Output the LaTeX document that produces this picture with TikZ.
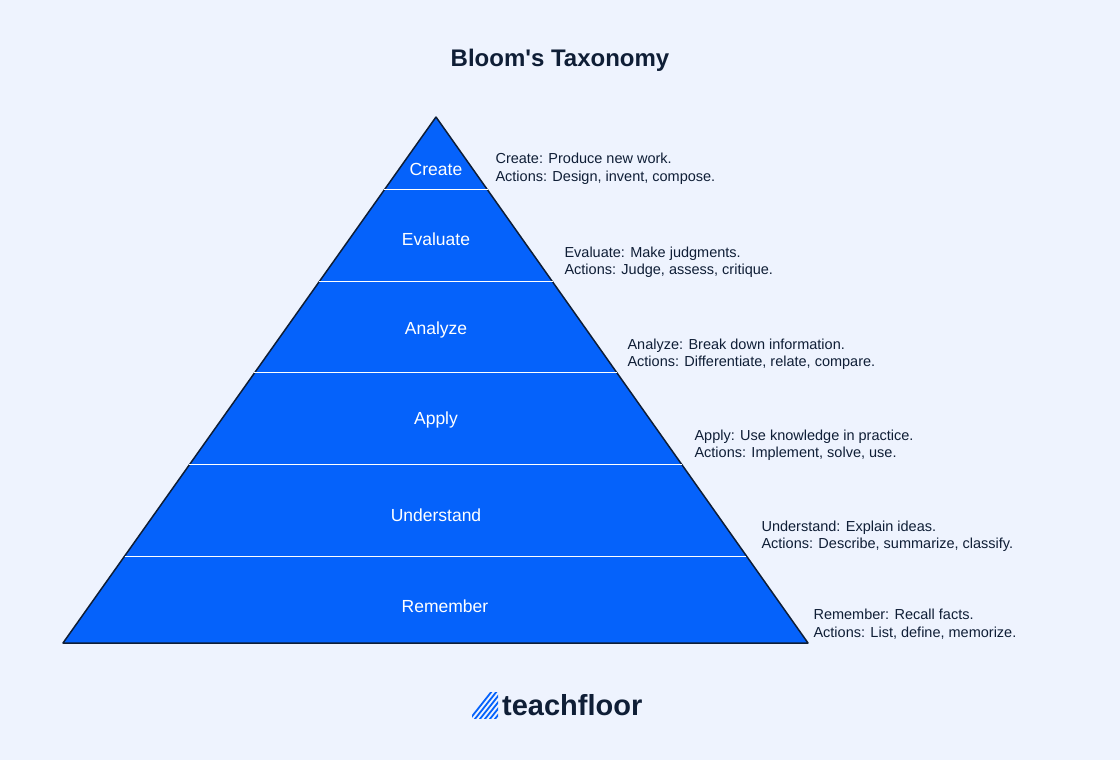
\documentclass[tikz,border=0pt]{standalone}
\usepackage{fontspec}
\setmainfont{Liberation Sans}
\usetikzlibrary{calc}
\definecolor{bgblue}{HTML}{EEF3FE}
\definecolor{pyrblue}{HTML}{0562FB}
\definecolor{navy}{HTML}{0F1E36}
\tikzset{
  levellabel/.style={text=white, font=\fontsize{17.5}{20}\selectfont},
  sidenote/.style={anchor=west, align=left, text=navy, font=\fontsize{14.5}{17.5}\selectfont}
}
\begin{document}
\begin{tikzpicture}[x=1pt,y=-1pt]
            \fill[bgblue] (0,0) rectangle (1120,760);
            \useasboundingbox (0,0) rectangle (1120,760);
            \node[text=navy, font=\bfseries\fontsize{24}{28}\selectfont] (title) at (560,60) {Bloom\textquotesingle s Taxonomy};
            \filldraw[fill=pyrblue, draw=navy, line width=1.5pt, line join=round] (436,117) coordinate (apex) -- (808,643) coordinate (baseR) -- (63,643) coordinate (baseL) -- cycle;
            % band separators
            \foreach \yy in {190,282,373,465,556}
                \draw[white, line width=1pt] ($(apex)!{(\yy-117)/526}!(baseL)$) -- ($(apex)!{(\yy-117)/526}!(baseR)$);
            \node[levellabel] (create) at (436,169) {Create};
            \node[levellabel] (evaluate) at (436,239) {Evaluate};
            \node[levellabel] (analyze) at (436,330) {Analyze};
            \node[levellabel] (apply) at (436,420) {Apply};
            \node[levellabel] (understand) at (436,515) {Understand};
            \node[levellabel] (remember) at (445,606) {Remember};
            \node[sidenote] (createnote) at (492,169) {Create: Produce new work.\\Actions: Design, invent, compose.};
            \node[sidenote] (evaluatenote) at (561,262) {Evaluate: Make judgments.\\Actions: Judge, assess, critique.};
            \node[sidenote] (analyzenote) at (624,354) {Analyze: Break down information.\\Actions: Differentiate, relate, compare.};
            \node[sidenote] (applynote) at (691,445) {Apply: Use knowledge in practice.\\Actions: Implement, solve, use.};
            \node[sidenote] (understandnote) at (758,536) {Understand: Explain ideas.\\Actions: Describe, summarize, classify.};
            \node[sidenote] (remembernote) at (810,624) {Remember: Recall facts.\\Actions: List, define, memorize.};
            % logo
            \begin{scope}
                \clip (472,692) rectangle (498,718);
                \foreach \k in {0,...,6}
                    \draw[pyrblue, line width=1.8pt] (466+5*\k,724) -- (496+5*\k,686);
            \end{scope}
            \node[anchor=west, text=navy, font=\bfseries\fontsize{29}{32}\selectfont, inner sep=0pt] (logo) at (502,705) {teachfloor};
        \end{tikzpicture}
\end{document}
